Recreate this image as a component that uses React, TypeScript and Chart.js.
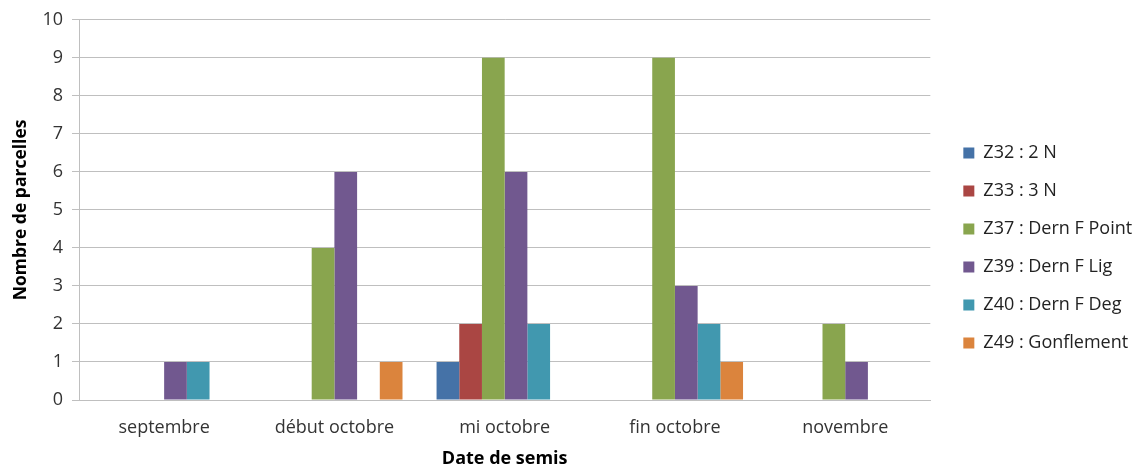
import React, { useEffect, useRef } from "react";
import { Chart, registerables } from "chart.js";

Chart.register(...registerables);

const categories = ["septembre", "début octobre", "mi octobre", "fin octobre", "novembre"];
const seriesNames = [
  "Z32 : 2 N",
  "Z33 : 3 N",
  "Z37 : Dern F Point",
  "Z39 : Dern F Lig",
  "Z40 : Dern F Deg",
  "Z49 : Gonflement",
];
const z32 = [0, 0, 1, 0, 0];
const z33 = [0, 0, 2, 0, 0];
const z37 = [0, 4, 9, 9, 2];
const z39 = [1, 6, 6, 3, 1];
const z40 = [1, 0, 2, 2, 0];
const z49 = [0, 1, 0, 1, 0];
const seriesValues = [z32, z33, z37, z39, z40, z49];
const seriesColors = ["#4572A7", "#AA4643", "#89A54E", "#71588F", "#4198AF", "#DB843D"];

const yTitle = "Nombre de parcelles";
const xTitle = "Date de semis";

const FONT = "'Open Sans', sans-serif";

export default function App() {
  const ref = useRef<HTMLCanvasElement | null>(null);

  useEffect(() => {
    if (!ref.current) return;
    const chart = new Chart(ref.current, {
      type: "bar",
      data: {
        labels: categories,
        datasets: seriesNames.map((name, i) => ({
          label: name,
          data: seriesValues[i],
          backgroundColor: seriesColors[i],
          borderWidth: 0,
          categoryPercentage: 0.8,
          barPercentage: 1,
        })),
      },
      options: {
        responsive: false,
        animation: false,
        devicePixelRatio: 1,
        layout: { padding: { top: 19, left: 0, right: 0, bottom: 0 } },
        plugins: {
          tooltip: { enabled: false },
          legend: {
            position: "right",
            title: { display: true, text: "", padding: 0, font: { size: 11, lineHeight: 1 } },
            labels: {
              boxWidth: 11,
              boxHeight: 11,
              padding: 20,
              color: "#222",
              font: { family: FONT, size: 18 },
            },
          },
        },
        scales: {
          x: {
            grid: { display: false, drawTicks: false },
            border: { display: true, color: "#BFBFBF" },
            ticks: { color: "#333", padding: 17, maxRotation: 0, font: { family: FONT, size: 18 } },
            title: {
              display: true,
              text: xTitle,
              color: "#000",
              padding: { top: 11, bottom: -2 },
              font: { family: FONT, size: 18, weight: "bold", lineHeight: 1 },
            },
            afterFit: (s: any) => {
              s.height = 66;
            },
          },
          y: {
            min: 0,
            max: 10,
            ticks: { stepSize: 1, color: "#333", padding: 9, font: { family: FONT, size: 18 } },
            grid: { color: "#BFBFBF", tickLength: 7, drawTicks: true },
            border: { display: true, color: "#BFBFBF" },
            title: {
              display: true,
              text: yTitle,
              color: "#000",
              padding: { top: 11, bottom: 0 },
              font: { family: FONT, size: 17.5, weight: "bold" },
            },
            afterFit: (s: any) => {
              s.width = 79;
            },
          },
          yRight: {
            position: "right",
            display: true,
            grid: { display: false },
            border: { display: false },
            ticks: { display: false },
            afterFit: (s: any) => {
              s.width = 13;
            },
          },
        },
      } as any,
    });
    return () => chart.destroy();
  }, []);

  return (
    <div style={{ position: "fixed", left: 0, top: 0, width: 1132, height: 466, background: "#fff" }}>
      <canvas ref={ref} width={1132} height={466} />
    </div>
  );
}
